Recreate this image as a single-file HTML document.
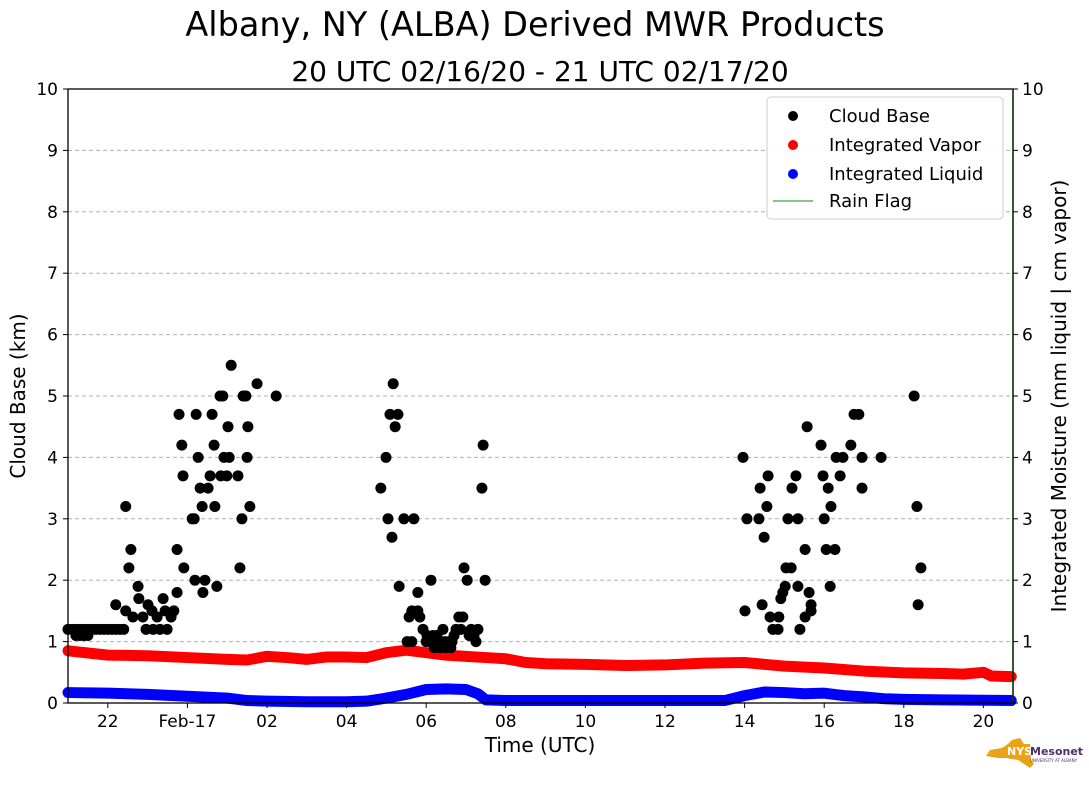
<!DOCTYPE html>
<html><head><meta charset="utf-8"><style>
body{margin:0;background:#fff;}
svg text{font-family:"DejaVu Sans","Liberation Sans",sans-serif;}
</style></head><body>
<svg id="chart" width="1089" height="804" xmlns="http://www.w3.org/2000/svg">
<text x="535" y="36" font-size="33.5" text-anchor="middle">Albany, NY (ALBA) Derived MWR Products</text>
<text x="540" y="81" font-size="28" text-anchor="middle">20 UTC 02/16/20 - 21 UTC 02/17/20</text>
<g id="grid"></g>
<g id="series"></g>
<rect x="68" y="89" width="945" height="614" fill="none" stroke="#000" stroke-width="1.3"/>
<line x1="1013" y1="89" x2="1013" y2="703" stroke="#0a3d0a" stroke-width="1.5"/>
<g id="axes"></g>
<text x="540" y="752" font-size="20" text-anchor="middle">Time (UTC)</text>
<text transform="translate(25,396) rotate(-90)" font-size="20" text-anchor="middle">Cloud Base (km)</text>
<text transform="translate(1066,396) rotate(-90)" font-size="20" text-anchor="middle">Integrated Moisture (mm liquid | cm vapor)</text>
<g>
<rect x="767" y="97" width="236" height="122" rx="4" fill="#fff" fill-opacity="0.9" stroke="#ccc"/>
<circle cx="793" cy="116" r="5" fill="#000"/><text x="829" y="122" font-size="18">Cloud Base</text>
<circle cx="793" cy="145" r="5" fill="#f00"/><text x="829" y="151" font-size="18">Integrated Vapor</text>
<circle cx="793" cy="174" r="5" fill="#00f"/><text x="829" y="180" font-size="18">Integrated Liquid</text>
<line x1="773" y1="201" x2="813" y2="201" stroke="#5cb85c" stroke-width="1.5"/><text x="829" y="207" font-size="18">Rain Flag</text>
</g>
<g>
<path d="M1012 740 L1020 738 L1024 744 L1030 744 L1031 760 L1034 764 L1030 768 L1024 764 L1018 760 L1006 758 L998 758 L986 756 L990 750 L1002 748 L1008 744 Z" fill="#e8a317"/>
<text x="1007" y="755" font-size="11" font-weight="bold" fill="#fff">NYS</text>
<text x="1030" y="755" font-size="11" font-weight="bold" fill="#4b2e6e">Mesonet</text>
<text x="1030" y="762" font-size="4" fill="#4b2e6e">UNIVERSITY AT ALBANY</text>
</g>
</svg>
<script>
const xTickHours=[1,3,5,7,9,11,13,15,17,19,21,23];
const xTickLabels=["22","Feb-17","02","04","06","08","10","12","14","16","18","20"];
const yTicks=[0,1,2,3,4,5,6,7,8,9,10];
const cbTime=[0,0.1,0.2,0.3,0.4,0.5,0.6,0.7,0.8,0.9,1.0,1.1,1.2,1.3,1.4,0.2,0.3,0.4,0.5,
1.2,1.45,1.45,1.58,1.53,1.76,1.78,1.63,1.88,2.01,1.96,2.11,2.24,2.39,2.14,2.31,2.49,2.44,2.59,2.66,2.74,2.74,2.79,2.86,2.89,2.91,3.12,3.17,3.19,3.22,3.27,3.32,3.39,3.37,3.44,3.52,3.57,3.62,3.67,3.69,3.74,3.82,3.89,3.84,3.92,3.99,4.05,4.02,4.10,4.27,4.32,4.37,4.40,4.47,4.52,4.50,4.57,4.75,5.23,
7.86,7.99,8.04,8.09,8.14,8.17,8.22,8.29,8.32,8.44,8.69,8.52,8.64,8.57,8.64,8.79,8.84,8.79,8.92,9.02,9.12,9.10,9.20,9.27,9.35,9.42,9.50,9.57,9.62,9.70,9.75,9.82,9.92,9.87,9.95,10.03,10.08,10.13,10.20,10.30,10.25,10.43,10.40,10.48,9.0,9.17,9.35,9.47,9.65,
16.96,17.01,17.06,17.36,17.39,17.44,17.49,17.56,17.59,17.64,17.71,17.84,17.86,17.91,17.96,18.02,18.04,18.17,18.09,18.19,18.29,18.34,18.34,18.39,18.52,18.52,18.57,18.62,18.67,18.67,18.92,18.97,19.0,19.05,19.10,19.15,19.17,19.27,19.30,19.40,19.47,19.67,19.75,19.87,19.95,19.95,20.43,21.26,21.33,21.36,21.43];
const cbKm=[1.2,1.2,1.2,1.2,1.2,1.2,1.2,1.2,1.2,1.2,1.2,1.2,1.2,1.2,1.2,1.1,1.1,1.1,1.1,
1.6,3.2,1.5,2.5,2.2,1.9,1.7,1.4,1.4,1.6,1.2,1.5,1.4,1.7,1.2,1.2,1.2,1.5,1.4,1.5,1.8,2.5,4.7,4.2,3.7,2.2,3.0,3.0,2.0,4.7,4.0,3.5,1.8,3.2,2.0,3.5,3.7,4.7,4.2,3.2,1.9,5.0,5.0,3.7,4.0,3.7,4.0,4.5,5.5,3.7,2.2,3.0,5.0,5.0,4.5,4.0,3.2,5.2,5.0,
3.5,4.0,3.0,4.7,2.7,5.2,4.5,4.7,1.9,3.0,3.0,1.0,1.0,1.4,1.5,1.5,1.4,1.8,1.2,1.1,2.0,1.0,0.9,1.1,1.0,1.2,0.9,1.0,0.9,1.1,1.2,1.4,1.4,1.2,2.2,2.0,1.1,1.2,1.1,1.2,1.0,4.2,3.5,2.0,1.0,1.1,0.9,1.0,1.0,
4.0,1.5,3.0,3.0,3.5,1.6,2.7,3.2,3.7,1.4,1.2,1.2,1.4,1.7,1.8,1.9,2.2,2.2,3.0,3.5,3.7,3.0,1.9,1.2,1.4,2.5,4.5,1.8,1.6,1.5,4.2,3.7,3.0,2.5,3.5,1.9,3.2,2.5,4.0,3.7,4.0,4.2,4.7,4.7,4.0,3.5,4.0,5.0,3.2,1.6,2.2];
const vapTime=[0,1,2,3,4,4.5,5,5.5,6,6.5,7,7.5,8,8.5,9,9.5,10,10.5,11,11.5,12,13,14,15,16,17,18,19,20,21,22,22.5,23,23.2,23.7];
const vapVal=[0.85,0.78,0.77,0.74,0.71,0.70,0.76,0.74,0.71,0.75,0.75,0.74,0.82,0.86,0.82,0.78,0.76,0.74,0.72,0.66,0.64,0.63,0.61,0.62,0.65,0.66,0.60,0.57,0.52,0.49,0.48,0.47,0.50,0.44,0.43];
const liqTime=[0,1,2,3,4,4.5,5,6,7,7.5,8,8.5,9,9.5,10,10.3,10.5,11,13,15,16.5,17,17.5,18,18.5,19,19.5,20,20.5,21,22,23.7];
const liqVal=[0.17,0.16,0.14,0.11,0.08,0.04,0.03,0.02,0.02,0.03,0.08,0.14,0.22,0.23,0.22,0.15,0.05,0.04,0.04,0.04,0.04,0.12,0.18,0.17,0.15,0.16,0.12,0.10,0.07,0.06,0.05,0.04];
const NS="http://www.w3.org/2000/svg";
function X(h){return 68+h*39.8;}
function Y(v){return 703-v*61.4;}
function mk(tag,attrs,parent){const e=document.createElementNS(NS,tag);for(const k in attrs)e.setAttribute(k,attrs[k]);parent.appendChild(e);return e;}
const grid=document.getElementById('grid'),axes=document.getElementById('axes'),ser=document.getElementById('series');
yTicks.forEach(v=>{
 if(v>0&&v<10){const g=mk('line',{x1:68,x2:1013,y1:Y(v),y2:Y(v),stroke:'#b0b0b0','stroke-dasharray':'4,3'},grid);
 
 }
 const t1=mk('line',{x1:63,x2:68,y1:Y(v),y2:Y(v),stroke:'#000'},axes);
 
 
 const l1=mk('text',{x:58,y:Y(v)+6,'font-size':17,'text-anchor':'end'},axes);l1.textContent=v;
 
 
 mk('line',{x1:1013,x2:1018,y1:Y(v),y2:Y(v),stroke:'#000'},axes);
 const l2=mk('text',{x:1022,y:Y(v)+6,'font-size':17},axes);l2.textContent=v;
 
 
});
xTickHours.forEach((h,i)=>{
 mk('line',{x1:X(h),x2:X(h),y1:703,y2:708,stroke:'#000'},axes);
 const l=mk('text',{x:X(h),y:727,'font-size':17,'text-anchor':'middle'},axes);l.textContent=xTickLabels[i];
 
 
});
function band(ts,vs,color,name){
 const p=mk('polyline',{points:ts.map((t,i)=>X(t)+','+Y(vs[i])).join(' '),fill:'none',stroke:color,'stroke-width':11,'stroke-linecap':'round','stroke-linejoin':'round'},ser);
 
 
}
band(vapTime,vapVal,'#f00','integrated-vapor-series');
band(liqTime,liqVal,'#00f','integrated-liquid-series');
cbTime.forEach((t,i)=>{
 const c=mk('circle',{cx:X(t),cy:Y(cbKm[i]),r:5.5,fill:'#000'},ser);
 
 
});
</script>
</body></html>
